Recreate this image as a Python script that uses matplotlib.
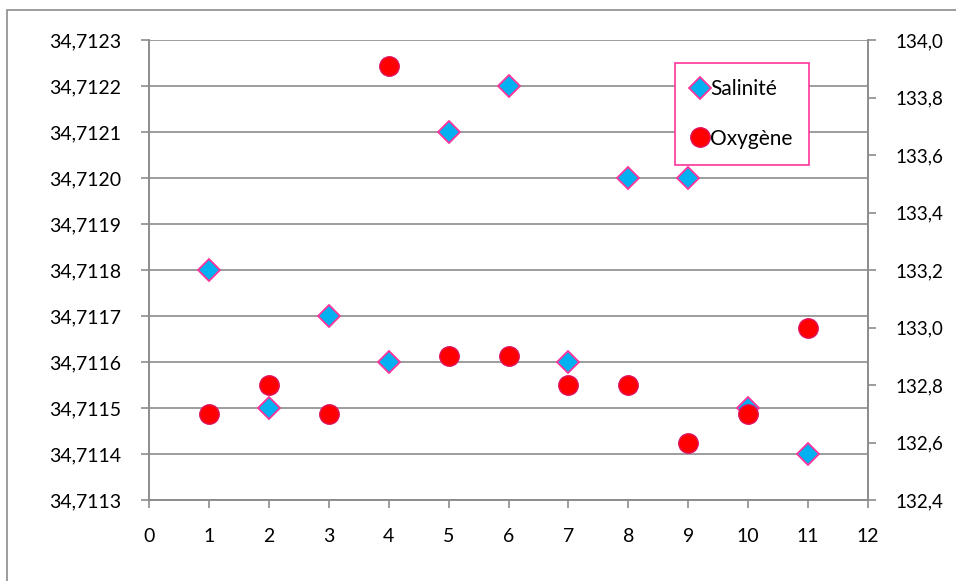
import matplotlib.pyplot as plt
from matplotlib.ticker import FuncFormatter, MultipleLocator
from matplotlib.patches import Rectangle

plt.rcParams['font.family'] = ['Lato', 'DejaVu Sans']
plt.rcParams['font.size'] = 14

# Data
points = [1, 2, 3, 4, 5, 6, 7, 8, 9, 10, 11]
salinite = [34.7118, 34.7115, 34.7117, 34.7116, 34.7121, 34.7122,
            34.7116, 34.7120, 34.7120, 34.7115, 34.7114]
oxygene = [132.7, 132.8, 132.7, 133.91, 132.9, 132.9,
           132.8, 132.8, 132.6, 132.7, 133.0]

grey = '#8c8c8c'

fig = plt.figure(figsize=(9.56, 5.81), dpi=100)
# chart-area frame: only top and left edges fall inside the image
fig.patches.append(Rectangle((0.0075, -0.1), 1.2, 1.083, transform=fig.transFigure,
                             fill=False, edgecolor=grey, linewidth=1.2))

ax = fig.add_axes([0.1559, 0.1394, 0.7521, 0.7917])
ax2 = ax.twinx()

ax.set_xlim(0, 12)
ax.set_ylim(34.7113, 34.7123)
ax2.set_ylim(132.4, 134.0)

ax.xaxis.set_major_locator(MultipleLocator(1))
ax.yaxis.set_major_locator(MultipleLocator(0.0001))
ax2.yaxis.set_major_locator(MultipleLocator(0.2))
ax.yaxis.set_major_formatter(FuncFormatter(lambda v, p: f"{v:.4f}".replace('.', ',')))
ax2.yaxis.set_major_formatter(FuncFormatter(lambda v, p: f"{v:.1f}".replace('.', ',')))

ax.grid(axis='y', color=grey, linewidth=1.2)
ax.set_axisbelow(True)
for a in (ax, ax2):
    for s in a.spines.values():
        s.set_color(grey)
        s.set_linewidth(1.2)
    a.spines['top'].set_visible(False)
    a.tick_params(colors=grey, labelcolor='black', width=1.2, length=6, labelsize=14)
ax.tick_params(axis='y', pad=14)
ax2.tick_params(axis='y', pad=14, labelsize=13.5)
ax.tick_params(axis='x', pad=14)

l1, = ax.plot(points, salinite, linestyle='none', marker='D', markersize=11,
              markerfacecolor='#00B0F0', markeredgecolor='#FF3399', markeredgewidth=1.3,
              label='Salinité', zorder=3)
l2, = ax2.plot(points, oxygene, linestyle='none', marker='o', markersize=14,
               markerfacecolor='#FF0000', markeredgecolor='#E0115F', markeredgewidth=1,
               label='Oxygène', zorder=3)

leg = ax2.legend(handles=[l1, l2], loc='upper left', bbox_to_anchor=(0.706, 0.892),
                 bbox_transform=fig.transFigure, fancybox=False, framealpha=1,
                 edgecolor='#FF3399', handlelength=0.8, handletextpad=0.1,
                 labelspacing=1.4, borderpad=0.8, fontsize=15, borderaxespad=0)
leg.get_frame().set_linewidth(1.2)

fig.savefig('out.png', dpi=100)
